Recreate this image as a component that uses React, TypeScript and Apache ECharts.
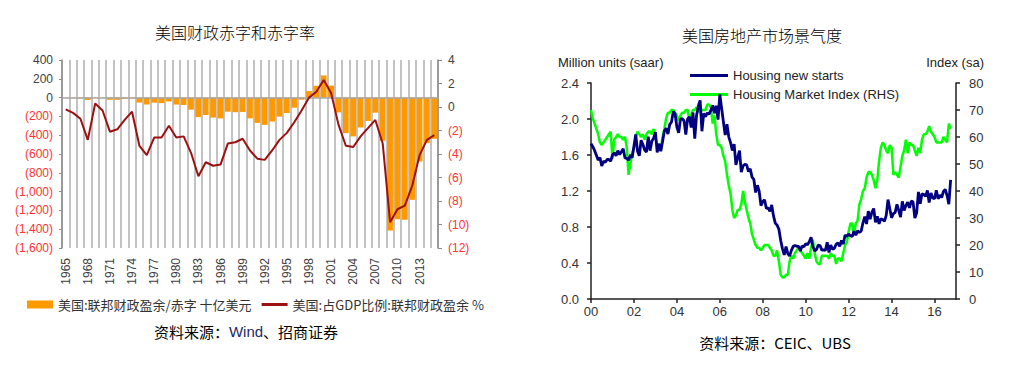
import React, { useEffect, useRef } from "react";
import * as echarts from "echarts";

// ---------- Left chart: US fiscal balance ----------
const fiscalYears = [
  "1965","1966","1967","1968","1969","1970","1971","1972","1973","1974",
  "1975","1976","1977","1978","1979","1980","1981","1982","1983","1984",
  "1985","1986","1987","1988","1989","1990","1991","1992","1993","1994",
  "1995","1996","1997","1998","1999","2000","2001","2002","2003","2004",
  "2005","2006","2007","2008","2009","2010","2011","2012","2013","2014","2015",
];
// billion USD
const fiscalBalance = [
  -1.4, -3.7, -8.6, -25.2, 3.2, -2.8, -23.0, -23.4, -14.9, -6.1,
  -53.2, -73.7, -53.7, -59.2, -40.7, -73.8, -79.0, -128.0, -207.8, -185.4,
  -212.3, -221.2, -149.7, -155.2, -152.6, -221.0, -269.2, -290.3, -255.1, -203.2,
  -164.0, -107.4, -21.9, 69.3, 125.6, 236.2, 128.2, -157.8, -377.6, -412.7,
  -318.3, -248.2, -160.7, -458.6, -1412.7, -1294.4, -1299.6, -1087.0, -679.5, -484.6, -438.5,
];
// % of GDP
const balanceToGdp = [
  -0.2, -0.5, -1.0, -2.8, 0.3, -0.3, -2.1, -1.9, -1.1, -0.4,
  -3.3, -4.1, -2.6, -2.6, -1.6, -2.6, -2.5, -3.9, -5.9, -4.7,
  -5.0, -4.9, -3.1, -3.0, -2.7, -3.7, -4.4, -4.5, -3.7, -2.8,
  -2.2, -1.3, -0.3, 0.8, 1.3, 2.3, 1.2, -1.5, -3.3, -3.4,
  -2.5, -1.8, -1.1, -3.1, -9.8, -8.7, -8.4, -6.7, -4.1, -2.8, -2.4,
];
const barName = "美国:联邦财政盈余/赤字 十亿美元";
const lineName = "美国:占GDP比例:联邦财政盈余 %";

// ---------- Right chart: US housing ----------
// monthly from Jan 2000, million units (saar)
const housingStarts = [
  1.727, 1.692, 1.651, 1.597, 1.543, 1.572, 1.478, 1.530, 1.520, 1.550, 1.551, 1.532,
  1.600, 1.625, 1.590, 1.649, 1.605, 1.636, 1.670, 1.567, 1.562, 1.540, 1.602, 1.568,
  1.698, 1.829, 1.642, 1.592, 1.764, 1.717, 1.655, 1.633, 1.804, 1.648, 1.753, 1.788,
  1.853, 1.629, 1.726, 1.643, 1.751, 1.867, 1.897, 1.833, 1.939, 1.967, 2.083, 2.057,
  1.911, 1.846, 1.998, 2.003, 1.981, 1.828, 2.002, 2.024, 1.905, 2.072, 1.782, 2.042,
  2.144, 2.207, 1.864, 2.061, 2.025, 2.068, 2.054, 2.095, 2.151, 2.065, 2.147, 1.994,
  2.273, 2.119, 1.969, 1.821, 1.942, 1.802, 1.737, 1.650, 1.720, 1.491, 1.570, 1.649,
  1.409, 1.480, 1.495, 1.490, 1.415, 1.448, 1.354, 1.330, 1.183, 1.264, 1.197, 1.037,
  1.084, 1.103, 1.005, 1.013, 0.973, 1.046, 0.923, 0.844, 0.820, 0.777, 0.652, 0.560,
  0.490, 0.582, 0.505, 0.478, 0.540, 0.585, 0.594, 0.586, 0.585, 0.534, 0.588, 0.581,
  0.614, 0.604, 0.636, 0.687, 0.583, 0.536, 0.546, 0.599, 0.594, 0.543, 0.545, 0.539,
  0.630, 0.517, 0.600, 0.554, 0.561, 0.608, 0.623, 0.585, 0.650, 0.610, 0.711, 0.694,
  0.723, 0.704, 0.695, 0.753, 0.708, 0.757, 0.740, 0.754, 0.847, 0.915, 0.833, 0.976,
  0.888, 0.962, 1.005, 0.853, 0.919, 0.835, 0.891, 0.883, 0.863, 0.930, 1.105, 1.003,
  0.902, 0.948, 0.963, 1.052, 0.984, 0.909, 1.085, 0.984, 1.036, 1.075, 1.012, 1.087,
  1.080, 0.900, 0.954, 1.190, 1.058, 1.170, 1.161, 1.140, 1.207, 1.071, 1.179, 1.123,
  1.114, 1.208, 1.113, 1.155, 1.128, 1.195, 1.218, 1.150, 1.054, 1.323,
];
// monthly from Jan 2000, index (sa)
const marketIndex = [
  70, 67, 65, 63, 61, 58, 57, 58, 59, 60, 61, 62,
  52, 59, 60, 61, 60, 60, 59, 60, 56, 46, 50, 54,
  56, 60, 62, 61, 60, 61, 59, 61, 62, 62, 61, 63,
  60, 57, 56, 55, 60, 63, 67, 69, 69, 70, 70, 69,
  68, 66, 68, 69, 69, 70, 70, 66, 68, 70, 70, 71,
  70, 69, 70, 70, 70, 72, 72, 71, 65, 68, 61, 57,
  57, 56, 53, 51, 46, 42, 39, 33, 30, 31, 33, 33,
  35, 40, 36, 33, 30, 28, 24, 22, 20, 19, 19, 18,
  19, 20, 20, 20, 19, 18, 16, 16, 18, 14, 9, 8,
  8, 9, 9, 14, 16, 15, 17, 18, 19, 18, 17, 16,
  15, 17, 15, 19, 22, 17, 14, 13, 13, 16, 16, 16,
  16, 15, 17, 16, 16, 13, 15, 15, 14, 17, 20, 21,
  25, 28, 28, 24, 28, 29, 35, 37, 40, 41, 45, 47,
  47, 46, 44, 41, 44, 51, 56, 58, 57, 55, 54, 57,
  56, 46, 47, 46, 45, 49, 53, 55, 59, 54, 58, 57,
  57, 55, 53, 56, 54, 59, 61, 61, 62, 64, 62, 61,
  60, 58, 58, 58, 58, 60, 59, 58, 65, 63,
];
const startsName = "Housing new starts";
const indexName = "Housing Market Index (RHS)";

const SANS = "'Liberation Sans', Arial, sans-serif";
const CJK = "'Noto Sans CJK SC', sans-serif";
const RED = "#ff3333";
const LABEL = "#404040";

const fmtThousands = (n: number) => n.toLocaleString("en-US");

function buildOption() {
  const toMonthly = (arr: number[]) => arr.map((v, i) => [i / 12, v]);
  return {
    animation: false,
    textStyle: { fontFamily: SANS },
    grid: [
      { left: 62, top: 60, width: 376, height: 188, outerBoundsMode: "none" },
      { left: 591, top: 83, width: 365, height: 216, outerBoundsMode: "none" },
    ],
    legend: [
      {
        left: 22,
        top: 293,
        itemWidth: 26,
        itemHeight: 8,
        itemGap: 10,
        textStyle: { fontFamily: CJK, fontSize: 13, color: "#333" },
        data: [
          { name: barName, icon: "rect" },
          { name: lineName, icon: "path://M0,0H26V3H0Z" },
        ],
      },
      {
        left: 685,
        top: 64,
        orient: "vertical",
        itemWidth: 38,
        itemHeight: 3,
        itemGap: 6,
        textStyle: { fontFamily: SANS, fontSize: 13, color: "#222" },
        data: [
          { name: startsName, icon: "rect" },
          { name: indexName, icon: "rect" },
        ],
      },
    ],
    xAxis: [
      {
        gridIndex: 0,
        type: "category",
        data: fiscalYears,
        boundaryGap: true,
        axisLine: { show: false, onZero: false },
        axisTick: { show: false },
        axisLabel: {
          interval: 2,
          rotate: 90,
          margin: 10,
          fontSize: 12,
          color: LABEL,
          fontFamily: SANS,
        },
        splitLine: {
          show: true,
          interval: 0,
          lineStyle: { color: "#c3c3c3", width: 2 },
        },
      },
      {
        gridIndex: 1,
        type: "value",
        min: 0,
        max: 17,
        interval: 2,
        axisLine: { show: true, onZero: false, lineStyle: { color: "#222", width: 1.5 } },
        axisTick: { show: true, length: 4, lineStyle: { color: "#222", width: 1.5 } },
        axisLabel: {
          margin: 6,
          fontSize: 13,
          color: "#333",
          fontFamily: SANS,
          showMaxLabel: false,
          formatter: (v: number) => (v > 16 ? "" : String(v).padStart(2, "0")),
        },
        splitLine: { show: false },
      },
    ],
    yAxis: [
      {
        gridIndex: 0,
        type: "value",
        min: -1600,
        max: 400,
        interval: 200,
        axisLine: { show: true, lineStyle: { color: "#8c8c8c", width: 1.5 } },
        axisTick: { show: true, length: 3, lineStyle: { color: "#8c8c8c" } },
        splitLine: { show: false },
        axisLabel: {
          margin: 9,
          fontSize: 12,
          fontFamily: SANS,
          formatter: (v: number) =>
            v < 0 ? `{n|(${fmtThousands(-v)})}` : `{p|${fmtThousands(v)}}`,
          rich: {
            n: { color: RED, fontSize: 12, fontFamily: SANS },
            p: { color: LABEL, fontSize: 12, fontFamily: SANS },
          },
        },
      },
      {
        gridIndex: 0,
        type: "value",
        position: "right",
        min: -12,
        max: 4,
        interval: 2,
        axisLine: { show: true, lineStyle: { color: "#8c8c8c", width: 1.5 } },
        axisTick: { show: true, length: 4, lineStyle: { color: "#8c8c8c" } },
        splitLine: { show: false },
        axisLabel: {
          margin: 10,
          fontSize: 12,
          fontFamily: SANS,
          formatter: (v: number) => (v < 0 ? `{n|(${-v})}` : `{p|${v}}`),
          rich: {
            n: { color: RED, fontSize: 12, fontFamily: SANS },
            p: { color: LABEL, fontSize: 12, fontFamily: SANS },
          },
        },
      },
      {
        gridIndex: 1,
        type: "value",
        min: 0,
        max: 2.4,
        interval: 0.4,
        axisLine: { show: true, lineStyle: { color: "#222", width: 1.5 } },
        axisTick: { show: true, length: 4, lineStyle: { color: "#222", width: 1.5 } },
        splitLine: { show: false },
        axisLabel: {
          margin: 12,
          fontSize: 13,
          color: "#333",
          fontFamily: SANS,
          formatter: (v: number) => v.toFixed(1),
        },
      },
      {
        gridIndex: 1,
        type: "value",
        position: "right",
        min: 0,
        max: 80,
        interval: 10,
        axisLine: { show: true, lineStyle: { color: "#222", width: 1.5 } },
        axisTick: { show: true, length: 4, lineStyle: { color: "#222", width: 1.5 } },
        splitLine: { show: false },
        axisLabel: { margin: 13, fontSize: 13, color: "#333", fontFamily: SANS },
      },
    ],
    series: [
      {
        name: barName,
        type: "bar",
        xAxisIndex: 0,
        yAxisIndex: 0,
        data: fiscalBalance,
        barCategoryGap: "22%",
        itemStyle: { color: "#ff9900" },
        markLine: {
          silent: true,
          symbol: "none",
          label: { show: false },
          lineStyle: { color: "#a6a6a6", width: 1.5, type: "solid" },
          data: [{ yAxis: 0 }],
        },
      },
      {
        name: lineName,
        type: "line",
        xAxisIndex: 0,
        yAxisIndex: 1,
        data: balanceToGdp,
        symbol: "none",
        color: "#9b1111",
        lineStyle: { color: "#9b1111", width: 2 },
        z: 5,
      },
      {
        name: indexName,
        type: "line",
        xAxisIndex: 1,
        yAxisIndex: 3,
        data: toMonthly(marketIndex),
        symbol: "none",
        color: "#00ff00",
        lineStyle: { color: "#00ff00", width: 2.5 },
        z: 3,
      },
      {
        name: startsName,
        type: "line",
        xAxisIndex: 1,
        yAxisIndex: 2,
        data: toMonthly(housingStarts),
        symbol: "none",
        color: "#000080",
        lineStyle: { color: "#000080", width: 2.8 },
        z: 4,
      },
    ],
    graphic: [
      {
        type: "text",
        x: 235,
        y: 32,
        style: {
          text: "美国财政赤字和赤字率",
          fontFamily: CJK,
          fontSize: 16,
          fontWeight: 300,
          fill: "#000",
          align: "center",
          verticalAlign: "middle",
        },
      },
      {
        type: "text",
        x: 762,
        y: 35,
        style: {
          text: "美国房地产市场景气度",
          fontFamily: CJK,
          fontSize: 16,
          fontWeight: 300,
          fill: "#000",
          align: "center",
          verticalAlign: "middle",
        },
      },
      {
        type: "text",
        x: 246,
        y: 331,
        style: {
          text: "资料来源：{w|Wind}、招商证券",
          fontFamily: CJK,
          fontSize: 15,
          fill: "#000",
          align: "center",
          verticalAlign: "middle",
          rich: {
            w: { fontFamily: SANS, fontSize: 15, fill: "#1c2a6e", color: "#1c2a6e" },
          },
        },
      },
      {
        type: "text",
        x: 775,
        y: 342,
        style: {
          text: "资料来源：CEIC、UBS",
          fontFamily: CJK,
          fontSize: 15,
          fill: "#000",
          align: "center",
          verticalAlign: "middle",
        },
      },
      {
        type: "text",
        x: 558,
        y: 62,
        style: {
          text: "Million units (saar)",
          fontFamily: SANS,
          fontSize: 13,
          fill: "#222",
          align: "left",
          verticalAlign: "middle",
        },
      },
      {
        type: "text",
        x: 984,
        y: 62,
        style: {
          text: "Index (sa)",
          fontFamily: SANS,
          fontSize: 13,
          fill: "#222",
          align: "right",
          verticalAlign: "middle",
        },
      },
    ],
  };
}

export default function App() {
  const ref = useRef<HTMLDivElement>(null);
  useEffect(() => {
    document.body.style.margin = "0";
    const chart = echarts.init(ref.current!, null, { renderer: "svg" });
    chart.setOption(buildOption() as any);
    return () => chart.dispose();
  }, []);
  return <div ref={ref} style={{ width: 1020, height: 382, background: "#fff" }} />;
}
